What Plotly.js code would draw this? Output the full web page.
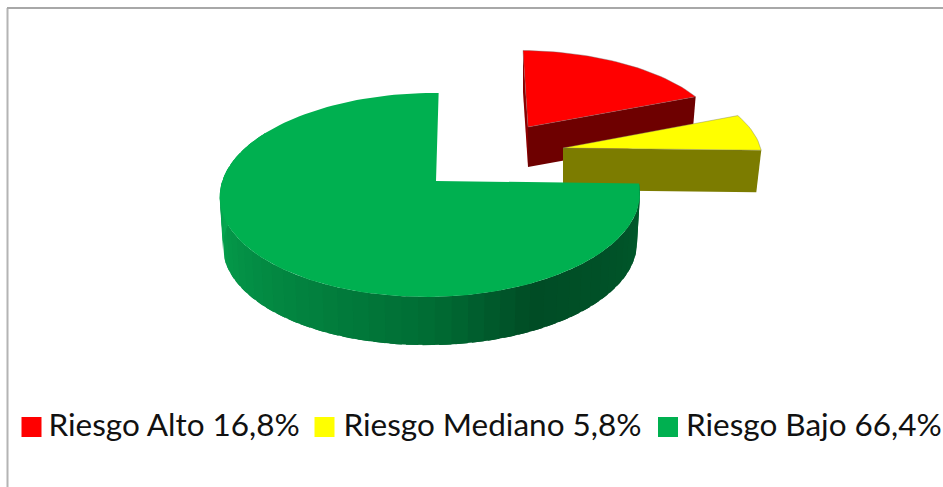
<!DOCTYPE html>
<html>
<head>
<meta charset="utf-8">
<script src="https://cdn.plot.ly/plotly-3.0.1.min.js"></script>
<style>html,body{margin:0;padding:0;background:#fff}#chart{width:943px;height:487px}</style>
</head>
<body>
<div id="chart"></div>
<script>
// Data
const categories = ["Riesgo Alto", "Riesgo Mediano", "Riesgo Bajo"];
const values = [16.8, 5.8, 66.4];
const valueLabels = ["16,8%", "5,8%", "66,4%"];

// Style
const topColors = ["#ff0000", "#ffff00", "#00b050"];
const cutColors = ["#6e0000", "#7c7c00", "#005a2a"];
const sideColors = ["#8a0000", "#7c7c00", "#00803c"];

// Placement of each exploded slice on the page (pie-in-perspective frame)
const frames = [
  {cx: 528, cy: 127, R: 197, Ry: 87, shear: -5.7, depth: 40, k: 0.98},
  {cx: 563, cy: 148, R: 203, Ry: 93, shear: 0, depth: 42, k: 0.975},
  {cx: 436, cy: 181, R: 208, Ry: 100, shear: 3, depth: 50, k: 0.985}
];
const P = 0.137, Q = 0.027;
const legendMarkerX = [31.5, 324.5, 668];
const legendTextX = [48.5, 343.5, 686];
const legendMarkerY = 427;
const legendTextY = 428.5;
// shading of the green rim by pie angle (degrees clockwise from north)
const rimAngles = [90, 125, 155, 180, 210, 245, 275, 300];
const rimGreen = [[0,92,44],[0,82,40],[0,76,37],[0,108,52],[2,128,62],[4,150,72],[6,170,82],[6,170,82]];

function project(f, deg, r, bottom) {
  const t = deg * Math.PI / 180;
  const x = r * Math.sin(t), y = r * Math.cos(t);
  const w = 1 / (1 + P * y + Q * x);
  const k = bottom ? f.k : 1;
  return [f.cx + k * f.R * x * w + f.shear * y * w,
          f.cy + (bottom ? f.depth : 0) - k * f.Ry * y * w];
}
function arc(f, a0, a1, bottom) {
  const n = Math.max(2, Math.ceil(Math.abs(a1 - a0) / 2)), pts = [];
  for (let i = 0; i <= n; i++) pts.push(project(f, a0 + (a1 - a0) * i / n, 1, bottom));
  return pts;
}
function poly(pts, color, name, line) {
  const closed = pts.concat([pts[0]]);
  return {
    type: "scatter", mode: "lines", fill: "toself", fillcolor: color,
    x: closed.map(p => p[0]), y: closed.map(p => p[1]),
    line: line || {color: color, width: 0},
    hoverinfo: "skip", showlegend: false, name: name
  };
}
function rimColor(a) {
  let i = 0;
  while (i < rimAngles.length - 2 && a > rimAngles[i + 1]) i++;
  const u = Math.min(1, Math.max(0, (a - rimAngles[i]) / (rimAngles[i + 1] - rimAngles[i])));
  const c = rimGreen[i].map((v, j) => Math.round(v + (rimGreen[i + 1][j] - v) * u));
  return "rgb(" + c.join(",") + ")";
}

// Slice angles from the values
const total = values.reduce((a, b) => a + b, 0);
const starts = [], ends = [];
values.reduce((acc, v, i) => { starts[i] = acc; ends[i] = acc + v / total * 360; return ends[i]; }, 0);

const traces = [];
const edge = {color: "rgba(110,110,110,0.55)", width: 0.7};

// Red slice
{
  const f = frames[0], a0 = starts[0], a1 = ends[0];
  traces.push(poly([project(f, a0, 1), project(f, a0, 0), project(f, a0, 0, true), project(f, a0, 1, true)], sideColors[0], categories[0]));
  traces.push(poly([project(f, a1, 1), project(f, a1, 0), project(f, a1, 0, true), project(f, a1, 1, true)], cutColors[0], categories[0]));
  traces.push(poly([project(f, 0, 0)].concat(arc(f, a0, a1)), topColors[0], categories[0], edge));
}
// Yellow slice
{
  const f = frames[1], a0 = starts[1], a1 = ends[1];
  traces.push(poly([project(f, a1, 1), project(f, a1, 0), project(f, a1, 0, true), project(f, a1, 1, true)], cutColors[1], categories[1]));
  traces.push(poly([project(f, 0, 0)].concat(arc(f, a0, a1)), topColors[1], categories[1], edge));
}
// Green slice: overlapping rim bands hide the seams
{
  const f = frames[2], a0 = starts[2], a1 = ends[2];
  const rimEnd = 300, step = 4, overlap = 3;
  for (let a = a0; a < rimEnd; a += step) {
    const b = Math.min(a + step + overlap, rimEnd);
    const upper = arc(f, a, b), lower = arc(f, a, b, true).reverse();
    traces.push(poly(upper.concat(lower), rimColor(a + step / 2), categories[2]));
  }
  traces.push(poly([project(f, 0, 0)].concat(arc(f, a0, a1)), topColors[2], categories[2]));
}
// Legend
categories.forEach((c, i) => {
  traces.push({
    type: "scatter", mode: "markers", x: [legendMarkerX[i]], y: [legendMarkerY],
    marker: {symbol: "square", size: 20, color: topColors[i], line: {width: 0}},
    hoverinfo: "skip", showlegend: false, name: c
  });
  traces.push({
    type: "scatter", mode: "text", x: [legendTextX[i]], y: [legendTextY],
    text: [c + " " + valueLabels[i]], textposition: "middle right",
    textfont: {family: "Lato, 'Open Sans', sans-serif", size: 31.5, color: "#111111"},
    hoverinfo: "skip", showlegend: false, name: c
  });
});

const layout = {
  width: 943, height: 487,
  margin: {l: 0, r: 0, t: 0, b: 0},
  paper_bgcolor: "#ffffff", plot_bgcolor: "#ffffff",
  showlegend: false,
  xaxis: {range: [0, 943], visible: false, fixedrange: true},
  yaxis: {range: [487, 0], visible: false, fixedrange: true},
  shapes: [
    {type: "line", xref: "x", yref: "y", x0: 7.5, x1: 7.5, y0: 8, y1: 487, line: {color: "#b4b4b4", width: 2}},
    {type: "line", xref: "x", yref: "y", x0: 7, x1: 943, y0: 8, y1: 8, line: {color: "#a8a8a8", width: 2}}
  ]
};
Plotly.newPlot("chart", traces, layout, {displayModeBar: false, responsive: false});
</script>
</body>
</html>
